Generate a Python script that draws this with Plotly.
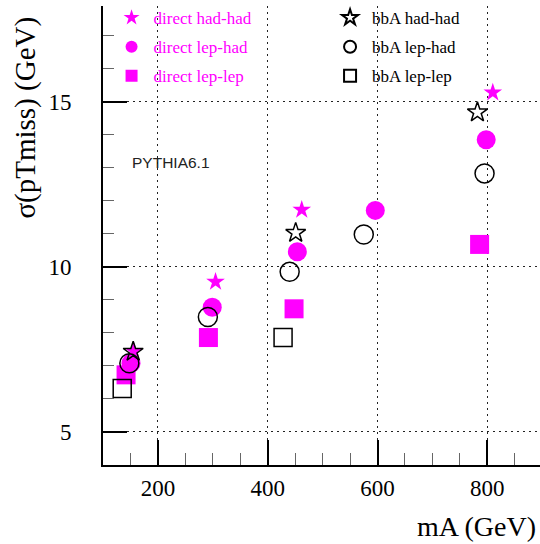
import plotly.graph_objects as go

# ---- data ----
direct_hadhad_x = [156, 305, 462, 810]
direct_hadhad_y = [7.45, 9.55, 11.73, 15.28]

direct_lephad_x = [151, 299, 454, 596, 798]
direct_lephad_y = [7.08, 8.78, 10.46, 11.71, 13.85]

direct_leplep_x = [142, 292, 448, 786]
direct_leplep_y = [6.73, 7.86, 8.73, 10.68]

bba_hadhad_x = [155, 451, 782]
bba_hadhad_y = [7.43, 11.03, 14.68]

bba_lephad_x = [148, 291, 440, 575, 795]
bba_lephad_y = [7.08, 8.48, 9.85, 10.98, 12.83]

bba_leplep_x = [135, 428]
bba_leplep_y = [6.32, 7.86]

x_tick_vals = [200, 400, 600, 800]
y_tick_vals = [5, 10, 15]

MAG = "#ff00ff"
SERIF = "Liberation Serif, Times New Roman, serif"

fig = go.Figure()

# direct (magenta, filled)
fig.add_trace(go.Scatter(x=direct_hadhad_x, y=direct_hadhad_y, mode="markers",
                         name="direct had-had", legend="legend", legendgroup="a",
                         marker=dict(symbol="star", size=14, color=MAG, line=dict(width=0))))
fig.add_trace(go.Scatter(x=direct_lephad_x, y=direct_lephad_y, mode="markers",
                         name="direct lep-had", legend="legend", legendgroup="b",
                         marker=dict(symbol="circle", size=19, color=MAG, line=dict(width=0))))
fig.add_trace(go.Scatter(x=direct_leplep_x, y=direct_leplep_y, mode="markers",
                         name="direct lep-lep", legend="legend", legendgroup="c",
                         marker=dict(symbol="square", size=19, color=MAG, line=dict(width=0))))

# bbA (black, open)
fig.add_trace(go.Scatter(x=bba_hadhad_x, y=bba_hadhad_y, mode="markers",
                         name="bbA had-had", legend="legend2", legendgroup="d",
                         marker=dict(symbol="star-open", size=15, color="black",
                                     line=dict(width=1.5, color="black"))))
fig.add_trace(go.Scatter(x=bba_lephad_x, y=bba_lephad_y, mode="markers",
                         name="bbA lep-had", legend="legend2", legendgroup="e",
                         marker=dict(symbol="circle-open", size=19, color="black",
                                     line=dict(width=1.5, color="black"))))
fig.add_trace(go.Scatter(x=bba_leplep_x, y=bba_leplep_y, mode="markers",
                         name="bbA lep-lep", legend="legend2", legendgroup="f",
                         marker=dict(symbol="square-open", size=18, color="black",
                                     line=dict(width=1.5, color="black"))))

grid = dict(showgrid=True, gridcolor="#222", gridwidth=1.3, griddash="2px,4px")

fig.update_xaxes(range=[100, 896], tickvals=x_tick_vals, ticks="inside", ticklen=25,
                 tickwidth=1.5, tickcolor="black", showline=True, linewidth=2,
                 linecolor="black", mirror=False, zeroline=False,
                 tickfont=dict(family=SERIF, size=23, color="black"),
                 ticklabelstandoff=1,
                 minor=dict(dtick=50, tick0=0, ticks="inside", ticklen=12,
                            tickwidth=1, tickcolor="#666", showgrid=False),
                 **grid)
fig.update_yaxes(range=[4, 17.9], tickvals=y_tick_vals, ticks="inside", ticklen=24,
                 tickwidth=1.5, tickcolor="black", showline=True, linewidth=2,
                 linecolor="black", mirror=False, zeroline=False,
                 tickfont=dict(family=SERIF, size=23, color="black"),
                 ticklabelstandoff=25,
                 minor=dict(dtick=1, tick0=0, ticks="inside", ticklen=11,
                            tickwidth=1, tickcolor="#666", showgrid=False),
                 **grid)

fig.add_annotation(text="σ(pTmiss) (GeV)", textangle=-90, xref="paper", yref="paper",
                   x=-0.178, xanchor="center", y=0.533, yanchor="bottom",
                   showarrow=False, font=dict(family=SERIF, size=29, color="black"))
fig.add_annotation(text="mA (GeV)", xref="paper", yref="paper",
                   x=1.0, xanchor="right", xshift=-2, y=-0.134, yanchor="middle",
                   showarrow=False, font=dict(family=SERIF, size=28, color="black"))
fig.add_annotation(text="PYTHIA6.1", xref="x", yref="y", x=149, y=13.15,
                   xanchor="left", yanchor="middle", showarrow=False,
                   font=dict(family="Liberation Sans, Arial, sans-serif", size=15.5, color="#222"))

fig.update_layout(
    width=540, height=544,
    margin=dict(l=103, r=0, t=0, b=79, pad=0),
    paper_bgcolor="white", plot_bgcolor="white",
    showlegend=True,
    legend=dict(x=0.015, y=1.013, xanchor="left", yanchor="top", bgcolor="rgba(0,0,0,0)",
                borderwidth=0, tracegroupgap=4, itemsizing="constant", itemwidth=34,
                font=dict(family=SERIF, size=17, color=MAG)),
    legend2=dict(x=0.515, y=1.013, xanchor="left", yanchor="top", bgcolor="rgba(0,0,0,0)",
                 borderwidth=0, tracegroupgap=4, itemsizing="constant", itemwidth=34,
                 font=dict(family=SERIF, size=17, color="black")),
)

fig.write_html("out.html", config={"displayModeBar": False},
               post_script="document.body.style.margin='0';document.body.style.overflow='hidden';")
